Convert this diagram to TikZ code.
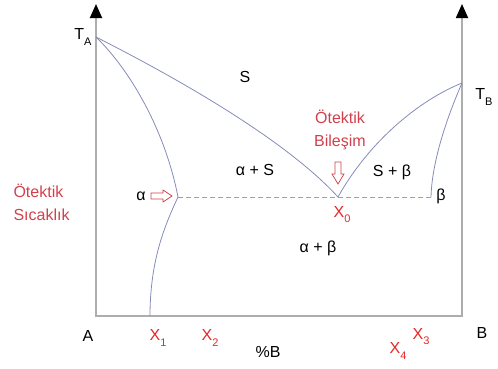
\documentclass[tikz,border=0pt]{standalone}
\usepackage{fontspec}
\setmainfont{Liberation Sans}
\usetikzlibrary{arrows.meta,calc}
\usepackage{tkz-euclide}
\definecolor{AxisClr}{rgb}{0.68,0.68,0.68}
\definecolor{CurveClr}{rgb}{0.52,0.55,0.72}
\definecolor{EutClr}{rgb}{0.82,0.25,0.3}
\definecolor{DashClr}{rgb}{0.92,0.5,0.55}
\definecolor{XClr}{rgb}{0.9,0.15,0.15}
\newcommand{\lowsub}[1]{\raisebox{-0.6ex}{\fontsize{11}{11}\selectfont #1}}

\begin{document}
\begin{tikzpicture}[x=1pt,y=1pt,font=\fontsize{16}{19}\selectfont]
\useasboundingbox (0,0) rectangle (498,368);

\tkzDefPoints{96/52/O,462/52/B0,96/364/Atop,462/364/Btop}
\tkzDefPoints{96/331/TA,462/285/TB,338/171/E,178/171/Al,431/171/Be,150/52/Xs}
\tkzDefPoints{172/172/ArrA,338/184/ArrE}

% axes
\draw[AxisClr,line width=1.8pt,{Triangle[width=12pt,length=14pt,color=black]}-{Triangle[width=12pt,length=14pt,color=black]}] (Atop) -- (O) -- (B0) -- (Btop);

% liquidus, solidus, solvus
\draw[CurveClr,line width=0.8pt] (TA) .. controls (210,273) and (295,218) .. (E) .. controls (370,228) and (420,268) .. (TB);
\draw[CurveClr,line width=0.8pt] (TA) .. controls (130,298) and (165,238) .. (Al) .. controls (165,143) and (150,108) .. (Xs);
\draw[CurveClr,line width=0.8pt] (TB) .. controls (448,253) and (432,208) .. (Be);

% eutectic line
\draw[DashClr,dashed,dash pattern=on 5pt off 3pt,line width=0.6pt] (Al) -- (Be);

% hollow arrows
\draw[EutClr,fill=white,line width=0.7pt] (ArrA) -- ++(-9,6) -- ++(0,-3) -- ++(-12,0) -- ++(0,-6) -- ++(12,0) -- ++(0,-3) -- cycle;
\draw[EutClr,fill=white,line width=0.7pt] (ArrE) -- ++(6,10) -- ++(-3,0) -- ++(0,12) -- ++(-6,0) -- ++(0,-12) -- ++(-3,0) -- cycle;

% labels
\node (lTA) at (83,331) {T\lowsub{A}};
\node (lTB) at (484,271) {T\lowsub{B}};
\node (lS) at (245,291) {S};
\node[EutClr,align=center,font=\fontsize{16}{23}\selectfont] (lEutB) at (340,238) {Ötektik\\Bileşim};
\node (lAS) at (255,198) {α + S};
\node (lSB) at (392,196) {S + β};
\node (lBeta) at (441,172) {β};
\node (lAlpha) at (141,172) {α};
\node[EutClr,align=left,anchor=west,font=\fontsize{16}{23}\selectfont] (lEutT) at (10,166) {Ötektik\\Sıcaklık};
\node[XClr] (lX0) at (342,153) {X\lowsub{0}};
\node (lAB) at (318,120) {α + β};
\node (lA) at (88,32) {A};
\node[XClr] (lX1) at (158,30) {X\lowsub{1}};
\node[XClr] (lX2) at (210,30) {X\lowsub{2}};
\node (lPB) at (268,16) {\%B};
\node[XClr] (lX3) at (421,31) {X\lowsub{3}};
\node[XClr] (lX4) at (398,17) {X\lowsub{4}};
\node (lB) at (482,35) {B};

\end{tikzpicture}
\end{document}
